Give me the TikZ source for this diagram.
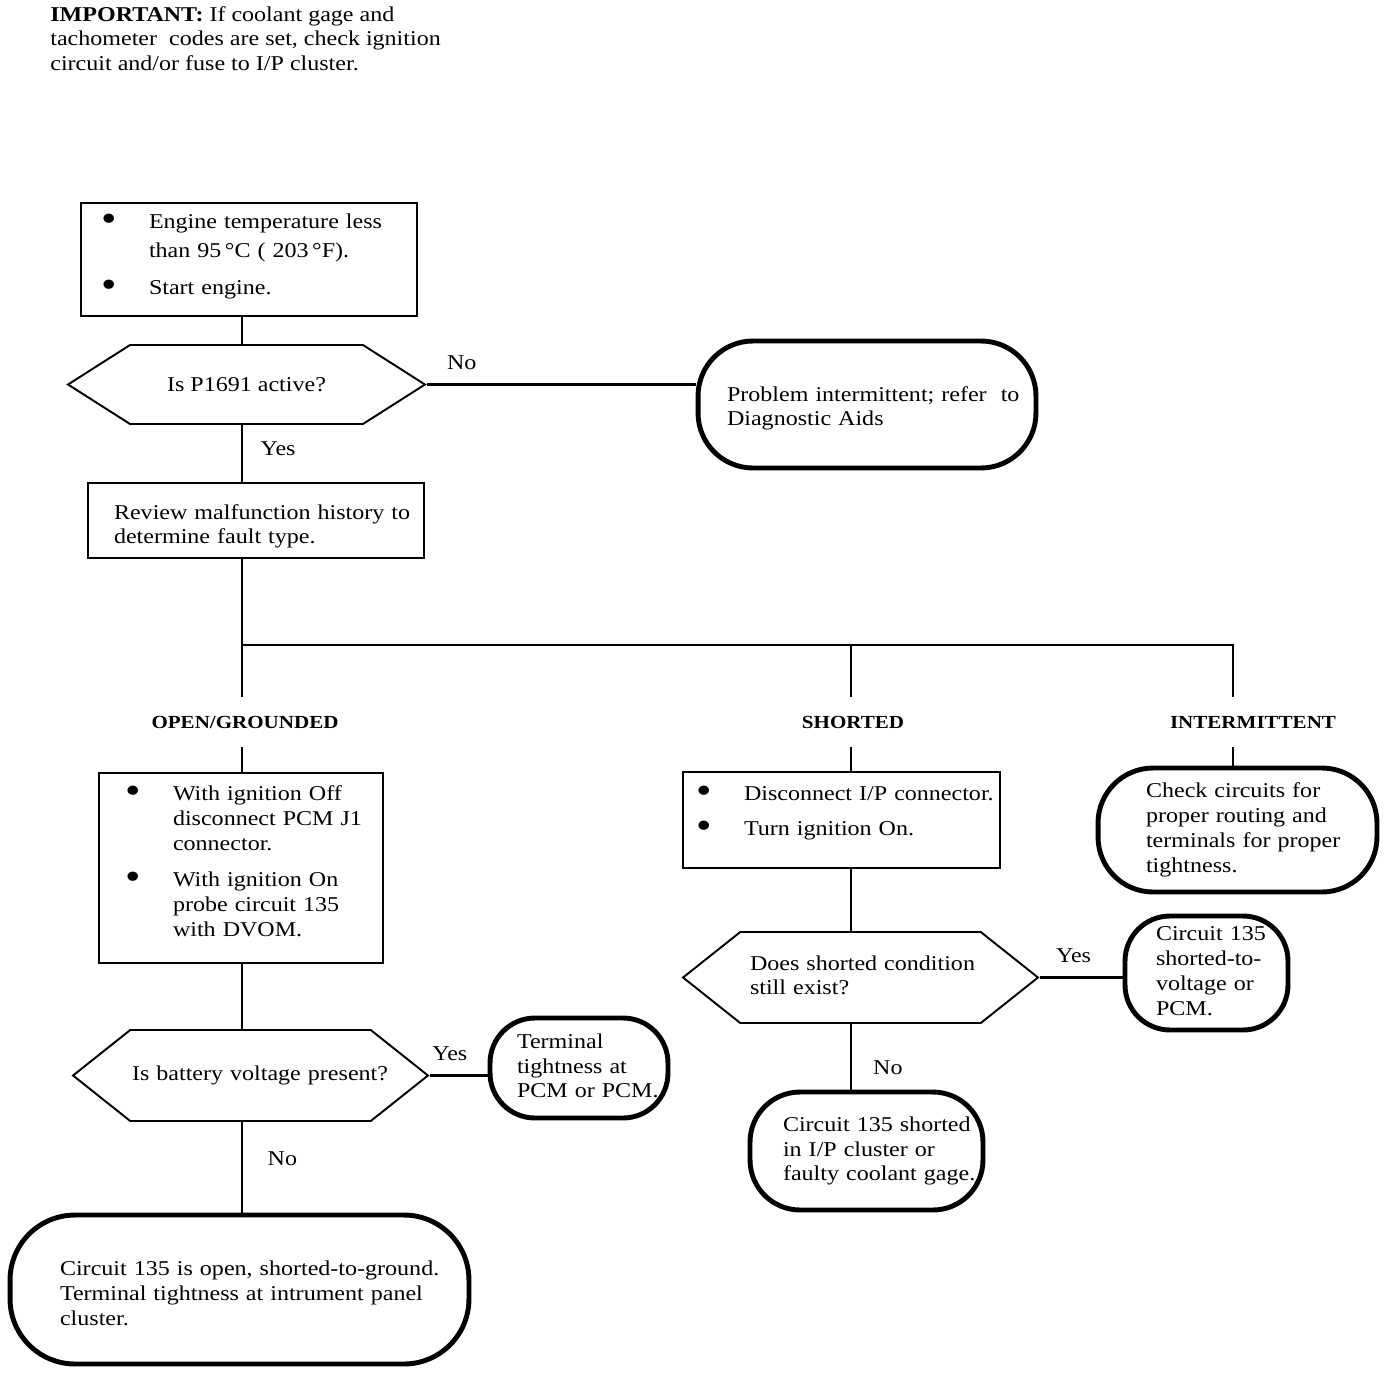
\documentclass[tikz,border=0pt]{standalone}
\usepackage{fontspec}
\setmainfont{Liberation Serif}[FakeStretch=1.14]
\usetikzlibrary{shapes.symbols}

\newcommand{\bigbul}{\raisebox{-1.8pt}[0pt][0pt]{\fontsize{22}{22}\selectfont\textbullet}}
\newcommand{\bitem}[1]{\makebox[0.96cm][l]{\bigbul}\begin{tabular}[t]{@{}l@{}}#1\end{tabular}}
\newcommand{\txtlines}[1]{\begin{tabular}[t]{@{}l@{}}#1\end{tabular}}
\newcommand{\hstrut}[1]{\rule{0pt}{#1}}
\newcommand{\dstrut}[1]{\rule[-#1]{0pt}{0pt}}

\tikzset{
  stepbox/.style={draw, line width=1.2pt, align=left, inner ysep=0pt},
  terminal/.style={draw, line width=2.8pt, rounded corners=#1, align=left, inner ysep=0pt},
  terminal/.default=1cm,
  decision/.style={signal, signal to=west and east, draw, line width=1.1pt, inner xsep=0pt},
  branchlbl/.style={font=\fontsize{10.5}{12}\selectfont\bfseries, minimum height=1cm, inner sep=0pt},
  link/.style={line width=1.2pt},
  answer/.style={inner sep=2pt}
}

\begin{document}
\begin{tikzpicture}[x=0.02cm, y=-0.02cm, font=\fontsize{12}{14.2}\selectfont]
\useasboundingbox (0,0) rectangle (1392,1372);

% note at the top
\node[anchor=north west, align=left, inner sep=0pt] (note) at (50,6)
  {\textbf{IMPORTANT:}\ If coolant gage and\\[-0.3pt]tachometer\ \ codes are set, check ignition\\[-0.3pt]circuit and/or fuse to I/P cluster.};

% main column
\node[stepbox, minimum width=6.72cm, minimum height=2.26cm, text width=5.92cm, inner xsep=0.4cm] (start) at (249,259.5)
  {\bitem{Engine temperature less\\[0.08cm]than 95\,°C ( 203\,°F).}\\[0.2cm]\bitem{Start engine.}\dstrut{0.28cm}};
\node[decision, minimum width=7.14cm, minimum height=1.58cm, signal pointer angle=65] (q1) at (246.5,384.5) {Is P1691 active?};
\node[terminal=1.1cm, minimum width=6.76cm, minimum height=2.54cm, text width=5.6cm, inner xsep=0.58cm] (probl) at (867,404.5)
  {\txtlines{\hstrut{0.51cm}Problem intermittent; refer\ \ to\\Diagnostic Aids}};
\node[stepbox, minimum width=6.72cm, minimum height=1.5cm, text width=5.68cm, inner xsep=0.52cm] (review) at (256,520.5)
  {\txtlines{\hstrut{0.59cm}Review malfunction history to\\determine fault type.}};

% fault types
\node[branchlbl] (opnlbl) at (245,722) {OPEN/GROUNDED};
\node[branchlbl] (shtlbl) at (853,722) {SHORTED};
\node[branchlbl] (intlbl) at (1253,722) {INTERMITTENT};

% open/grounded
\node[stepbox, minimum width=5.68cm, minimum height=3.8cm, text width=4.64cm, inner xsep=0.52cm] (chk) at (241,868)
  {\bitem{With ignition Off\\disconnect PCM J1\\connector.}\\[0.2cm]\bitem{With ignition On\\probe circuit 135\\with DVOM.}\dstrut{1.33cm}};
\node[decision, minimum width=7.1cm, minimum height=1.82cm, signal pointer angle=77, text width=4.74cm, align=left] (q2) at (250.5,1075.5)
  {\txtlines{Is battery voltage present?}};
\node[terminal=0.9cm, minimum width=3.56cm, minimum height=2cm, text width=2.48cm, inner xsep=0.54cm] (pcm) at (579,1068)
  {\txtlines{Terminal\\tightness at\\PCM or PCM.}};
\node[terminal=1.3cm, minimum width=9.18cm, minimum height=2.98cm, text width=7.18cm, inner xsep=1cm] (opengnd) at (239.5,1289.5)
  {\txtlines{\hstrut{0.59cm}Circuit 135 is open, shorted-to-ground.\\Terminal tightness at intrument panel\\cluster.}};

% shorted
\node[stepbox, minimum width=6.34cm, minimum height=1.92cm, text width=5.82cm, inner xsep=0.26cm] (disc) at (841.5,820)
  {\bitem{Disconnect I/P connector.}\\[0.2cm]\bitem{Turn ignition On.}\dstrut{0.42cm}};
\node[decision, minimum width=7.1cm, minimum height=1.82cm, signal pointer angle=77, text width=4.42cm, align=left] (q3) at (860.5,977.5)
  {\txtlines{Does shorted condition\\still exist?}};
\node[terminal=0.9cm, minimum width=3.26cm, minimum height=2.28cm, text width=2.02cm, inner xsep=0.62cm] (volt) at (1206.5,973)
  {\txtlines{Circuit 135\\shorted-to-\\voltage or\\PCM.}};
\node[terminal=1cm, minimum width=4.66cm, minimum height=2.36cm, text width=3.34cm, inner xsep=0.66cm] (clst) at (866.5,1151)
  {\txtlines{Circuit 135 shorted\\in I/P cluster or\\faulty coolant gage.}};

% intermittent
\node[terminal=1.1cm, minimum width=5.58cm, minimum height=2.48cm, text width=3.66cm, inner xsep=0.96cm] (interm) at (1237.5,830)
  {\txtlines{Check circuits for\\proper routing and\\terminals for proper\\tightness.}};

% columns for the connectors
\coordinate (lcol) at (242,0);
\coordinate (mcol) at (851,0);
\coordinate (rcol) at (1233,0);
\coordinate (split) at (242,645);

\draw[link] (start.south -| lcol) -- (q1.north -| lcol);
\draw[link] (q1.south -| lcol) -- node[answer, right=8pt, pos=0.42] (yesA) {Yes} (review.north -| lcol);
\draw[link] (q1.east) -- node[answer, above=6pt, pos=0.13] (noA) {No} (q1.east -| probl.west);
\draw[link] (review.south -| lcol) -- (opnlbl.north -| lcol);
\draw[link] (split) -| (shtlbl.north -| mcol);
\draw[link] (split) -| (intlbl.north -| rcol);
\draw[link] (opnlbl.south -| lcol) -- (chk.north -| lcol);
\draw[link] (chk.south -| lcol) -- (q2.north -| lcol);
\draw[link] (q2.east) -- node[answer, above=6pt, pos=0.35] (yesB) {Yes} (q2.east -| pcm.west);
\draw[link] (q2.south -| lcol) -- node[answer, right=12pt, pos=0.4] (noB) {No} (opengnd.north -| lcol);
\draw[link] (shtlbl.south -| mcol) -- (disc.north -| mcol);
\draw[link] (disc.south -| mcol) -- (q3.north -| mcol);
\draw[link] (q3.east) -- node[answer, above=6pt, pos=0.41] (yesC) {Yes} (q3.east -| volt.west);
\draw[link] (q3.south -| mcol) -- node[answer, right=10pt, pos=0.67] (noC) {No} (clst.north -| mcol);
\draw[link] (intlbl.south -| rcol) -- (interm.north -| rcol);
\end{tikzpicture}
\end{document}
